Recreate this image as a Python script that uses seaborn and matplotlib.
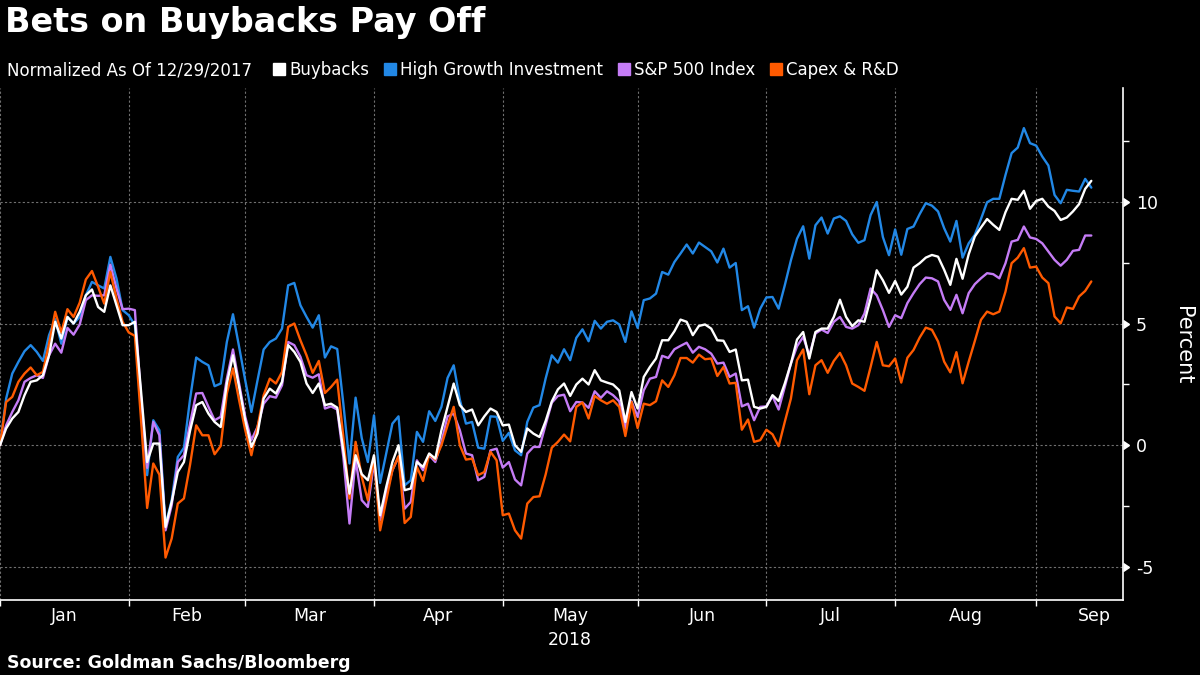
import numpy as np
import pandas as pd
import matplotlib
matplotlib.use('Agg')
import matplotlib.pyplot as plt
from matplotlib.lines import Line2D
from matplotlib import markers
import seaborn as sns

# Series, normalized as of 12/29/2017 (percent), one value per trading day
series_names = ['Buybacks', 'High Growth Investment', 'S&P 500 Index', 'Capex & R&D']
series_colors = ['#ffffff', '#2288e6', '#c57cf6', '#ff5a00']

buybacks = [
    0.00, 0.69, 1.10, 1.37, 2.06, 2.61, 2.67, 2.88, 3.70, 5.08,
    4.39, 5.28, 5.01, 5.49, 6.17, 6.41, 5.69, 5.49, 6.58, 5.76,
    4.94, 4.94, 5.08, 2.24, -0.69, 0.07, 0.07, -3.36, -2.33, -1.10,
    -0.69, 0.60, 1.65, 1.78, 1.30, 0.96, 0.75, 2.54, 3.70, 2.40,
    1.03, -0.07, 0.48, 1.92, 2.33, 2.13, 2.61, 4.12, 3.84, 3.43,
    2.54, 2.15, 2.54, 1.65, 1.71, 1.55, -0.21, -1.99, -0.41, -1.19,
    -1.44, -0.41, -2.88, -1.71, -0.69, 0.00, -1.85, -1.78, -0.69, -0.89,
    -0.34, -0.55, 0.62, 1.58, 2.54, 1.65, 1.37, 1.47, 0.82, 1.19,
    1.51, 1.37, 0.82, 0.85, 0.00, -0.27, 0.69, 0.48, 0.34, 1.00,
    1.80, 2.30, 2.54, 2.03, 2.50, 2.74, 2.50, 3.09, 2.67, 2.58,
    2.50, 2.26, 0.96, 2.19, 1.51, 2.81, 3.22, 3.57, 4.32, 4.32,
    4.69, 5.17, 5.08, 4.53, 4.91, 4.97, 4.80, 4.32, 4.30, 3.84,
    3.94, 2.67, 2.70, 1.58, 1.51, 1.58, 2.06, 1.82, 2.54, 3.36,
    4.35, 4.66, 3.57, 4.66, 4.80, 4.80, 5.28, 5.99, 5.28, 4.90,
    5.14, 5.08, 6.04, 7.20, 6.79, 6.27, 6.76, 6.20, 6.52, 7.31,
    7.49, 7.72, 7.83, 7.76, 7.22, 6.60, 7.67, 6.85, 7.86, 8.59,
    8.96, 9.31, 9.07, 8.86, 9.59, 10.14, 10.10, 10.47, 9.73, 10.05,
    10.14, 9.82, 9.64, 9.27, 9.37, 9.62, 9.92, 10.55, 10.88,
]

high_growth = [
    0.00, 1.92, 2.95, 3.43, 3.87, 4.12, 3.84, 3.47, 4.53, 5.19,
    4.18, 5.28, 5.01, 5.28, 6.17, 6.72, 6.58, 6.45, 7.75, 6.86,
    5.56, 5.35, 4.94, 1.93, -1.23, 1.03, 0.62, -3.29, -2.26, -0.48,
    -0.10, 1.90, 3.61, 3.43, 3.29, 2.43, 2.54, 4.25, 5.39, 4.05,
    2.67, 1.37, 2.67, 3.94, 4.25, 4.39, 4.80, 6.58, 6.68, 5.76,
    5.28, 4.84, 5.35, 3.61, 4.07, 3.96, 1.71, -0.75, 1.96, 0.30,
    -0.69, 1.23, -1.55, -0.34, 0.89, 1.19, -1.65, -1.44, 0.55, 0.14,
    1.40, 1.00, 1.58, 2.77, 3.29, 1.88, 0.89, 0.96, -0.10, -0.14,
    1.19, 1.17, 0.18, 0.51, -0.21, -0.41, 0.96, 1.55, 1.65, 2.75,
    3.70, 3.40, 3.95, 3.50, 4.42, 4.77, 4.28, 5.12, 4.80, 5.08,
    5.14, 4.97, 4.25, 5.51, 4.83, 5.97, 6.04, 6.24, 7.13, 7.02,
    7.54, 7.89, 8.26, 7.89, 8.34, 8.16, 7.98, 7.52, 8.09, 7.31,
    7.50, 5.56, 5.72, 4.84, 5.62, 6.08, 6.10, 5.62, 6.58, 7.61,
    8.50, 9.01, 7.68, 9.05, 9.37, 8.71, 9.33, 9.42, 9.23, 8.68,
    8.33, 8.44, 9.47, 10.01, 8.57, 7.82, 8.88, 7.84, 8.90, 9.00,
    9.51, 9.96, 9.86, 9.62, 8.93, 8.38, 9.23, 7.72, 8.31, 8.66,
    9.31, 10.00, 10.14, 10.14, 11.12, 12.02, 12.25, 13.05, 12.43, 12.33,
    11.88, 11.51, 10.30, 9.96, 10.51, 10.47, 10.44, 10.96, 10.60,
]

sp500 = [
    0.00, 0.82, 1.37, 1.85, 2.61, 2.77, 2.88, 2.77, 3.70, 4.18,
    3.81, 4.83, 4.55, 4.97, 5.97, 6.17, 6.15, 6.17, 7.43, 6.45,
    5.60, 5.62, 5.56, 1.95, -0.93, 0.96, 0.41, -3.50, -2.47, -0.69,
    -0.41, 0.90, 2.13, 2.15, 1.58, 1.03, 1.17, 2.74, 3.94, 2.54,
    1.17, 0.21, 0.75, 1.71, 2.02, 1.96, 2.47, 4.25, 4.12, 3.64,
    2.88, 2.78, 2.92, 1.51, 1.60, 1.47, -0.48, -3.22, -0.59, -2.26,
    -2.54, -0.69, -3.09, -1.99, -1.03, -0.48, -2.61, -2.33, -0.62, -1.03,
    -0.41, -0.69, 0.14, 1.19, 1.30, 0.62, -0.34, -0.41, -1.44, -1.30,
    -0.21, -0.14, -0.92, -0.69, -1.41, -1.65, -0.34, -0.07, -0.07, 0.85,
    1.75, 2.03, 2.08, 1.40, 1.78, 1.76, 1.54, 2.22, 1.95, 2.22,
    2.06, 1.81, 0.69, 1.81, 1.17, 2.26, 2.74, 2.81, 3.68, 3.59,
    3.95, 4.09, 4.22, 3.81, 4.05, 3.95, 3.77, 3.36, 3.40, 2.81,
    2.95, 1.60, 1.71, 1.03, 1.58, 1.60, 2.02, 1.47, 2.40, 3.36,
    4.07, 4.46, 3.70, 4.60, 4.76, 4.62, 5.08, 5.28, 4.87, 4.80,
    4.94, 5.42, 6.45, 6.17, 5.56, 4.87, 5.35, 5.23, 5.85, 6.26,
    6.63, 6.90, 6.87, 6.74, 5.98, 5.57, 6.19, 5.43, 6.26, 6.63,
    6.87, 7.08, 7.04, 6.87, 7.49, 8.38, 8.45, 9.00, 8.55, 8.49,
    8.31, 7.97, 7.63, 7.39, 7.63, 8.00, 8.04, 8.63, 8.63,
]

capex_rd = [
    0.00, 1.78, 1.99, 2.61, 2.95, 3.20, 2.88, 3.02, 4.18, 5.49,
    4.64, 5.60, 5.28, 5.87, 6.82, 7.17, 6.52, 5.83, 7.13, 6.04,
    5.08, 4.64, 4.50, 1.05, -2.58, -0.75, -1.21, -4.62, -3.84, -2.40,
    -2.19, -0.80, 0.82, 0.41, 0.41, -0.37, -0.03, 2.13, 3.16, 1.85,
    0.62, -0.41, 0.75, 2.06, 2.74, 2.54, 3.02, 4.87, 5.01, 4.32,
    3.70, 2.98, 3.47, 2.15, 2.40, 2.70, 0.34, -2.19, 0.14, -1.30,
    -2.26, -0.48, -3.50, -2.26, -1.03, -0.45, -3.20, -2.95, -0.89, -1.47,
    -0.37, -0.59, 0.00, 0.82, 1.58, 0.00, -0.59, -0.55, -1.23, -1.10,
    -0.27, -0.62, -2.88, -2.81, -3.50, -3.84, -2.40, -2.13, -2.10, -1.20,
    -0.10, 0.14, 0.44, 0.16, 1.58, 1.76, 1.10, 2.03, 1.85, 1.71,
    1.85, 1.58, 0.38, 1.78, 0.71, 1.71, 1.65, 1.81, 2.67, 2.40,
    2.88, 3.59, 3.59, 3.40, 3.73, 3.54, 3.57, 2.85, 3.22, 2.54,
    2.57, 0.64, 1.06, 0.14, 0.21, 0.64, 0.45, -0.04, 0.96, 1.92,
    3.50, 3.94, 2.10, 3.29, 3.50, 2.98, 3.47, 3.80, 3.29, 2.54,
    2.40, 2.24, 3.22, 4.25, 3.29, 3.25, 3.57, 2.58, 3.60, 3.92,
    4.43, 4.84, 4.75, 4.27, 3.44, 3.00, 3.83, 2.55, 3.44, 4.29,
    5.16, 5.50, 5.39, 5.50, 6.32, 7.49, 7.72, 8.11, 7.31, 7.35,
    6.90, 6.67, 5.30, 5.02, 5.67, 5.61, 6.12, 6.35, 6.74,
]

# US market holidays in the window -> trading-day calendar
holidays_2018 = ['2018-01-01', '2018-01-15', '2018-02-19', '2018-03-30',
                 '2018-05-28', '2018-07-04', '2018-09-03']
days = pd.bdate_range('2017-12-29', '2018-09-14', freq='C', holidays=holidays_2018)

wide = pd.DataFrame({
    'date': days,
    'Buybacks': buybacks,
    'High Growth Investment': high_growth,
    'S&P 500 Index': sp500,
    'Capex & R&D': capex_rd,
})
wide['day'] = np.arange(len(wide))
long_df = wide.melt(id_vars=['date', 'day'], var_name='series', value_name='value')

# month boundaries (last trading day of each month) and label centres
month_end_idx = wide.groupby(wide['date'].dt.to_period('M'))['day'].max()
bounds = list(month_end_idx.values[:-1])
month_labels = ['Jan', 'Feb', 'Mar', 'Apr', 'May\n2018', 'Jun', 'Jul', 'Aug', 'Sep']
centers = []
for b, m in zip(bounds, range(1, 10)):
    start = pd.Timestamp(2018, m, 1)
    n_month = len(pd.bdate_range(start, start + pd.offsets.MonthEnd(0), freq='C',
                                 holidays=holidays_2018))
    centers.append(b + n_month / 2)

sns.set_theme(style='dark', rc={
    'figure.facecolor': 'black',
    'axes.facecolor': 'black',
    'savefig.facecolor': 'black',
    'text.color': 'white',
    'axes.edgecolor': 'white',
})
plt.rcParams['font.family'] = ['DejaVu Sans']

fig = plt.figure(figsize=(12, 6.75), dpi=100)
ax = fig.add_axes([0.0, 0.111, 0.936, 0.759])

draw_order = ['High Growth Investment', 'S&P 500 Index', 'Capex & R&D', 'Buybacks']
palette = dict(zip(series_names, series_colors))
sns.lineplot(data=long_df, x='day', y='value', hue='series', hue_order=draw_order,
             palette=palette, linewidth=1.7, estimator=None, legend=False, ax=ax)

ax.set_xlim(0, 183.2)
ax.set_ylim(-6.37, 14.71)
ax.set_xlabel('')
ax.set_ylabel('')

for side in ['left', 'top']:
    ax.spines[side].set_visible(False)
for side in ['right', 'bottom']:
    ax.spines[side].set_visible(True)
    ax.spines[side].set_color('white')
    ax.spines[side].set_linewidth(1.2)

# x axis: ticks at month boundaries, labels centred in the months
ax.set_xticks(bounds)
ax.set_xticklabels([])
ax.set_xticks(centers, minor=True)
ax.set_xticklabels(month_labels, minor=True)
ax.tick_params(axis='x', which='major', direction='out', length=4, width=1,
               color='white', bottom=True)
ax.tick_params(axis='x', which='minor', length=0, pad=5, labelsize=12.5,
               labelcolor='white')
for lab in ax.get_xticklabels(minor=True):
    lab.set_linespacing(1.45)

# y axis on the right
ax.yaxis.tick_right()
ax.set_yticks([-5, 0, 5, 10])
ax.set_yticklabels(['-5', '0', '5', '10'])
ax.set_yticks([-2.5, 2.5, 7.5, 12.5], minor=True)
ax.tick_params(axis='y', which='major', right=True, left=False, length=6, width=1,
               color='white', pad=3, labelsize=12.5, labelcolor='white')
ax.tick_params(axis='y', which='minor', right=True, left=False, direction='out',
               length=4, width=1, color='white')

ax.grid(True, which='major', axis='both', color='#707070',
        linestyle=(0, (2, 2)), linewidth=0.8)
ax.set_axisbelow(True)

for t in ax.yaxis.get_major_ticks():
    t.tick2line.set_marker(markers.CARETRIGHTBASE)
    t.tick2line.set_markerfacecolor('white')
    t.tick2line.set_markeredgecolor('white')

fig.text(0.986, 0.489, 'Percent', rotation=270, ha='center', va='center',
         fontsize=15, color='white')

# title, subtitle, legend and source
fig.text(0.004, 0.966, 'Bets on Buybacks Pay Off', fontsize=24, fontweight='bold',
         color='white', ha='left', va='center')
fig.text(0.006, 0.896, 'Normalized As Of 12/29/2017', fontsize=12, color='white',
         ha='left', va='center')

handles = [Line2D([], [], linestyle='', marker='s', markersize=9,
                  markerfacecolor=c, markeredgecolor=c) for c in series_colors]
fig.legend(handles, series_names, loc='center left', bbox_to_anchor=(0.228, 0.896),
           ncol=4, frameon=False, fontsize=12, labelcolor='white',
           handlelength=0.7, handletextpad=0.25, columnspacing=0.9,
           borderpad=0, borderaxespad=0)

fig.text(0.006, 0.018, 'Source: Goldman Sachs/Bloomberg', fontsize=12.5,
         fontweight='bold', color='white', ha='left', va='center')

plt.savefig('out.png', dpi=100, facecolor='black')
